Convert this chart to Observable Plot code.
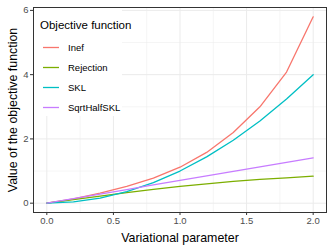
<!DOCTYPE html>
<html>
<head>
<meta charset="utf-8">
<script src="https://cdn.jsdelivr.net/npm/d3@7"></script>
<script src="https://cdn.jsdelivr.net/npm/@observablehq/plot@0.6"></script>
<style>
  html, body { margin: 0; padding: 0; background: #fff; }
  #chart { width: 332px; height: 249px; }
  svg { font-family: "Liberation Sans", Arial, Helvetica, sans-serif; }
</style>
</head>
<body>
<div id="chart"></div>
<script>
const xValues = [0, 0.2, 0.4, 0.6, 0.8, 1.0, 1.2, 1.4, 1.6, 1.8, 2.0];
const series = ["Inef", "Rejection", "SKL", "SqrtHalfSKL"];
const inef = [0, 0.13, 0.31, 0.52, 0.78, 1.12, 1.58, 2.2, 3.0, 4.08, 5.8];
const rejection = [0, 0.11, 0.22, 0.33, 0.43, 0.52, 0.6, 0.68, 0.74, 0.79, 0.84];
const skl = [0, 0.04, 0.16, 0.36, 0.64, 1.0, 1.44, 1.96, 2.56, 3.24, 4.0];
const sqrtHalfSkl = [0, 0.14, 0.28, 0.42, 0.57, 0.71, 0.85, 0.99, 1.13, 1.27, 1.41];
const colors = ["#F8766D", "#7CAE00", "#00BFC4", "#C77CFF"];
const xTicks = [0, 0.5, 1, 1.5, 2];
const xMinor = [0.25, 0.75, 1.25, 1.75];
const yTicks = [0, 2, 4, 6];
const yMinor = [1, 3, 5];

const valuesBySeries = [inef, rejection, skl, sqrtHalfSkl];
const data = [];
series.forEach((s, i) => xValues.forEach((x, j) => data.push({ series: s, x, y: valuesBySeries[i][j] })));

const plot = Plot.plot({
  width: 332,
  height: 249,
  marginLeft: 33,
  marginRight: 6,
  marginTop: 7,
  marginBottom: 37,
  style: { fontFamily: '"Liberation Sans", Arial, sans-serif', background: "#fff" },
  x: { domain: [-0.1, 2.1] },
  y: { domain: [-0.29, 6.09] },
  color: { domain: series, range: colors },
  marks: [
    Plot.gridX(xMinor, { stroke: "#ebebeb", strokeOpacity: 1, strokeWidth: 0.5 }),
    Plot.gridY(yMinor, { stroke: "#ebebeb", strokeOpacity: 1, strokeWidth: 0.5 }),
    Plot.gridX(xTicks, { stroke: "#ebebeb", strokeOpacity: 1, strokeWidth: 1 }),
    Plot.gridY(yTicks, { stroke: "#ebebeb", strokeOpacity: 1, strokeWidth: 1 }),
    Plot.line(data, { x: "x", y: "y", z: "series", stroke: "series", strokeWidth: 1.3 }),
    Plot.frame({ stroke: "#333333", strokeWidth: 1 }),
    Plot.axisX(xTicks, { tickFormat: d3.format(".1f"), tickSize: 3, tickPadding: 2, stroke: "#333", fill: "#4d4d4d", fontSize: 9.5, label: null }),
    Plot.axisY(yTicks, { tickFormat: d3.format("d"), tickSize: 3, tickPadding: 2, stroke: "#333", fill: "#4d4d4d", fontSize: 9.5, label: null }),
    Plot.text(["Variational parameter"], { frameAnchor: "bottom", dy: 29, fontSize: 12.4, fill: "#000" }),
    Plot.text(["Value of the objective function"], { frameAnchor: "left", textAnchor: "middle", dx: -20, rotate: -90, fontSize: 12.4, fill: "#000" })
  ]
});
document.getElementById("chart").appendChild(plot);

// Legend inside panel (top-left)
const svg = d3.select(plot);
const lg = svg.append("g").attr("transform", "translate(34,8)").attr("text-anchor", "start");
lg.append("rect").attr("x", 0).attr("y", 0).attr("width", 88).attr("height", 108).attr("fill", "#fff");
lg.append("text").attr("x", 6).attr("y", 21).attr("font-size", 11.5).attr("fill", "#000").text("Objective function");
series.forEach((s, i) => {
  const cy = 39.5 + i * 20;
  lg.append("line").attr("x1", 9).attr("x2", 25).attr("y1", cy).attr("y2", cy)
    .attr("stroke", colors[i]).attr("stroke-width", 1.3);
  lg.append("text").attr("x", 34).attr("y", cy).attr("dy", "0.35em").attr("font-size", 9.5).attr("fill", "#000").text(s);
});
</script>
</body>
</html>
